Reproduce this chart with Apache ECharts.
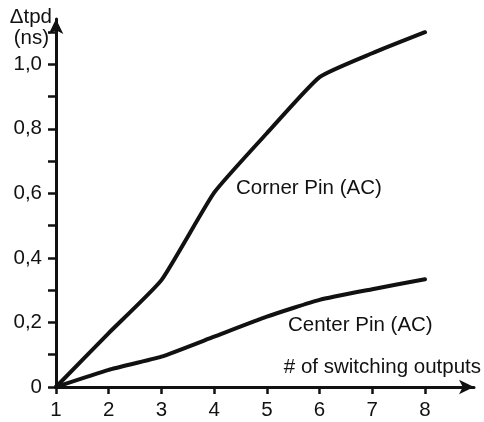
<!DOCTYPE html>
<html>
<head>
  <meta charset="UTF-8">
  <title>tpd vs switching outputs</title>
  <style type="text/css">
    html, body { margin: 0; padding: 0; background: #fff; }
  </style>
</head>
<body>
  <div id="main" style="width: 484px; height: 422px;"></div>
</body>
<script type="text/javascript" src="https://cdn.jsdelivr.net/npm/echarts@6.0.0/dist/echarts.min.js"></script>
<script type="text/javascript">
  // data
  var outputs = [1, 2, 3, 4, 5, 6, 7, 8]
  var cornerPin = [0, 0.167, 0.331, 0.602, 0.786, 0.96, 1.034, 1.099]
  var centerPin = [0, 0.053, 0.094, 0.156, 0.218, 0.27, 0.303, 0.334]
  var yTicks = [0, 0.1, 0.2, 0.3, 0.4, 0.5, 0.6, 0.7, 0.8, 0.9, 1.0, 1.1]
  var yLabels = [0, 0.2, 0.4, 0.6, 0.8, 1.0]

  function pairs(ys) {
    var out = []
    for (var i = 0; i < outputs.length; i++) {
      out.push([outputs[i], ys[i]])
    }
    return out
  }

  var ink = '#111'
  var font = 'Liberation Sans, Arial, sans-serif'
  var txt = '20.5px ' + font

  var myChart = echarts.init(document.getElementById('main'))
  var option = {
    backgroundColor: '#fff',
    animation: false,
    grid: {
      left: 56, right: 10, top: 19, bottom: 35,
      containLabel: false,
      outerBoundsMode: 'none'
    },
    xAxis: {
      type: 'value',
      min: 1,
      max: 8.93,
      splitLine: { show: false },
      axisLine: {
        onZero: false,
        symbol: ['none', 'arrow'],
        symbolSize: [11, 15],
        lineStyle: { color: ink, width: 3 }
      },
      axisTick: {
        customValues: outputs,
        length: 7,
        lineStyle: { color: ink, width: 2.5 }
      },
      axisLabel: {
        customValues: outputs,
        margin: 13,
        color: ink,
        fontSize: 20.5,
        fontFamily: font
      }
    },
    yAxis: {
      type: 'value',
      min: 0,
      max: 1.14,
      splitLine: { show: false },
      axisLine: {
        show: true,
        symbol: ['none', 'arrow'],
        symbolSize: [11, 15],
        lineStyle: { color: ink, width: 3 }
      },
      axisTick: {
        show: true,
        customValues: yTicks,
        length: 8,
        lineStyle: { color: ink, width: 2.5 }
      },
      axisLabel: {
        customValues: yLabels,
        margin: 14,
        color: ink,
        fontSize: 20.5,
        fontFamily: font,
        formatter: function (v) {
          return v === 0 ? '0' : v.toFixed(1).replace('.', ',')
        }
      }
    },
    graphic: [
      { type: 'text', x: 52, y: 7, style: { text: 'Δtpd', fill: ink, font: txt, align: 'right', verticalAlign: 'top' } },
      { type: 'text', x: 49, y: 28, style: { text: '(ns)', fill: ink, font: txt, align: 'right', verticalAlign: 'top' } },
      { type: 'text', x: 481, y: 367, style: { text: '# of switching outputs', fill: ink, font: txt, align: 'right', verticalAlign: 'middle' } },
      { type: 'text', x: 236, y: 188, style: { text: 'Corner Pin (AC)', fill: ink, font: txt, align: 'left', verticalAlign: 'middle' } },
      { type: 'text', x: 288, y: 325, style: { text: 'Center Pin (AC)', fill: ink, font: txt, align: 'left', verticalAlign: 'middle' } }
    ],
    series: [{
      name: 'Corner Pin (AC)',
      type: 'line',
      data: pairs(cornerPin),
      showSymbol: false,
      smooth: 0.15,
      lineStyle: { color: ink, width: 4, cap: 'round', join: 'round' }
    }, {
      name: 'Center Pin (AC)',
      type: 'line',
      data: pairs(centerPin),
      showSymbol: false,
      smooth: 0.15,
      lineStyle: { color: ink, width: 4, cap: 'round', join: 'round' }
    }]
  }
  myChart.setOption(option)
</script>
</html>
